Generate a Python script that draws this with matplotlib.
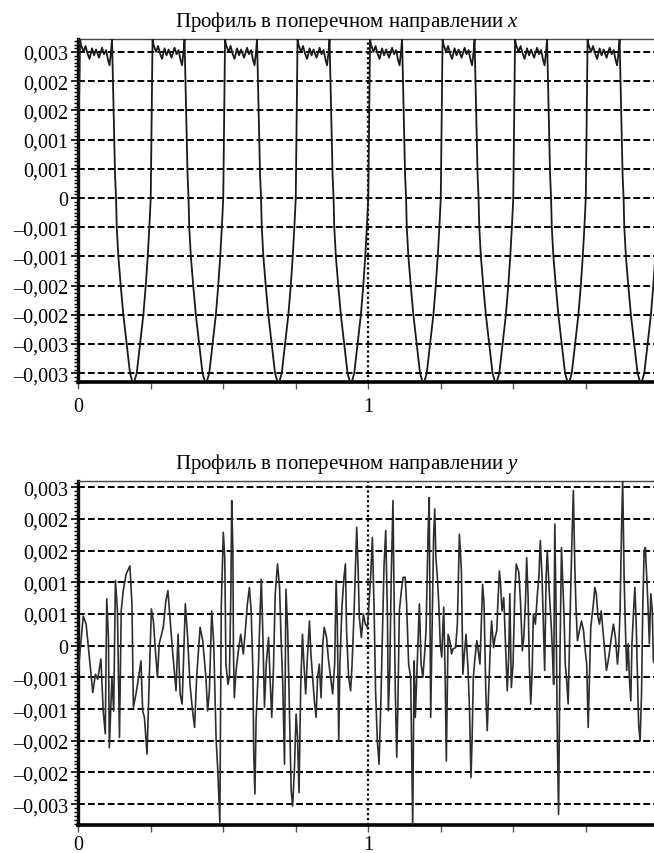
import numpy as np
import matplotlib.pyplot as plt
from matplotlib.ticker import AutoMinorLocator

plt.rcParams['font.family'] = ['Liberation Serif', 'DejaVu Serif']
plt.rcParams['mathtext.fontset'] = 'custom'
plt.rcParams['mathtext.rm'] = 'Liberation Serif'
plt.rcParams['mathtext.it'] = 'Liberation Serif:italic'

# --- profile across x: one period of the surface (offset from plateau start, height in 1e-3)
period_dx = [0.0, 0.0034, 0.0121, 0.0190, 0.0259, 0.0328, 0.0414, 0.0483, 0.0552,
             0.0655, 0.0759, 0.0828, 0.0897, 0.0966, 0.1017, 0.1069, 0.1103, 0.1138,
             0.1207, 0.1241, 0.1266, 0.1321, 0.1403, 0.1493, 0.1610, 0.1724, 0.1838,
             0.1955, 0.2069, 0.2183, 0.2266, 0.2334, 0.2390, 0.2438, 0.2483]
period_h = [2.72, 2.62, 2.50, 2.60, 2.47, 2.38, 2.56, 2.44, 2.54,
            2.40, 2.57, 2.46, 2.53, 2.36, 2.27, 2.50, 2.72, 1.95,
            0.40, 0.00, -0.50, -1.00, -1.50, -2.00, -2.50, -3.00, -3.20,
            -3.00, -2.50, -2.00, -1.50, -1.00, -0.50, 0.00, 2.00]
plateau_starts = [0.007, 0.257, 0.507, 0.757, 1.007, 1.257, 1.507, 1.757]
lead_x = [0.0, 0.005]
lead_h = [0.70, 2.00]

# --- profile across y (position, height in 1e-3)
py_x = [0.000, 0.018, 0.028, 0.039, 0.051, 0.060, 0.068, 0.079, 0.087, 0.094,
        0.099, 0.105, 0.108, 0.117, 0.123, 0.129, 0.136, 0.143, 0.149, 0.156,
        0.166, 0.179, 0.186, 0.191, 0.200, 0.209, 0.217, 0.223, 0.229, 0.238,
        0.246, 0.253, 0.260, 0.267, 0.274, 0.280, 0.294, 0.303, 0.310, 0.317,
        0.326, 0.338, 0.345, 0.352, 0.359, 0.370, 0.378, 0.386, 0.395, 0.402,
        0.409, 0.421, 0.430, 0.441, 0.447, 0.453, 0.461, 0.468, 0.476, 0.482,
        0.489, 0.494, 0.501, 0.506, 0.510, 0.517, 0.522, 0.527, 0.530, 0.534,
        0.536, 0.539, 0.545, 0.553, 0.561, 0.570, 0.577, 0.584, 0.591, 0.597,
        0.603, 0.606, 0.610, 0.614, 0.622, 0.628, 0.632, 0.637, 0.643, 0.649,
        0.657, 0.662, 0.668, 0.674, 0.680, 0.688, 0.695, 0.700, 0.706, 0.712,
        0.717, 0.723, 0.729, 0.735, 0.740, 0.746, 0.752, 0.757, 0.762, 0.768,
        0.774, 0.779, 0.785, 0.791, 0.798, 0.803, 0.809, 0.815, 0.821, 0.826,
        0.832, 0.838, 0.844, 0.849, 0.857, 0.864, 0.871, 0.878, 0.885, 0.890,
        0.894, 0.899, 0.903, 0.910, 0.917, 0.922, 0.926, 0.933, 0.940, 0.945,
        0.952, 0.957, 0.961, 0.966, 0.970, 0.977, 0.984, 0.991, 0.998, 1.003,
        1.009, 1.015, 1.021, 1.026, 1.032, 1.038, 1.044, 1.049, 1.055, 1.061,
        1.067, 1.070, 1.075, 1.080, 1.086, 1.089, 1.094, 1.099, 1.103, 1.108,
        1.115, 1.121, 1.128, 1.133, 1.140, 1.147, 1.150, 1.154, 1.159, 1.163,
        1.168, 1.172, 1.177, 1.183, 1.189, 1.195, 1.200, 1.207, 1.211, 1.216,
        1.221, 1.226, 1.230, 1.234, 1.239, 1.244, 1.249, 1.254, 1.261, 1.266,
        1.270, 1.276, 1.282, 1.288, 1.293, 1.302, 1.308, 1.315, 1.322, 1.327,
        1.333, 1.338, 1.345, 1.350, 1.355, 1.359, 1.363, 1.369, 1.375, 1.380,
        1.386, 1.391, 1.395, 1.400, 1.406, 1.411, 1.416, 1.422, 1.426, 1.433,
        1.438, 1.444, 1.448, 1.453, 1.457, 1.462, 1.468, 1.474, 1.480, 1.485,
        1.489, 1.494, 1.500, 1.506, 1.511, 1.520, 1.526, 1.532, 1.537, 1.543,
        1.547, 1.552, 1.556, 1.561, 1.566, 1.570, 1.577, 1.584, 1.589, 1.594,
        1.600, 1.605, 1.609, 1.614, 1.618, 1.626, 1.632, 1.637, 1.640, 1.644,
        1.648, 1.653, 1.657, 1.662, 1.667, 1.671, 1.676, 1.680, 1.685, 1.690,
        1.694, 1.699, 1.703, 1.708, 1.713, 1.717, 1.722, 1.729, 1.736, 1.743,
        1.749, 1.754, 1.759, 1.763, 1.768, 1.772, 1.777, 1.782, 1.787, 1.793,
        1.798, 1.804, 1.810, 1.816, 1.822, 1.828, 1.833, 1.839, 1.846, 1.853,
        1.860, 1.864, 1.869, 1.874, 1.878, 1.883, 1.887, 1.892, 1.897, 1.901,
        1.906, 1.910, 1.915, 1.920, 1.924, 1.929, 1.933, 1.938, 1.943, 1.947,
        1.952, 1.956, 1.961, 1.966, 1.970, 1.975, 1.980, 1.984, 1.989]
py_h = [-0.45, 0.47, 0.34, -0.18, -0.74, -0.45, -0.53, -0.21, -1.03, -1.39,
        0.74, 0.13, -1.61, -0.50, -1.03, 1.03, 0.55, -1.45, 0.55, 0.87,
        1.13, 1.26, 0.66, -0.97, -0.76, -0.50, -0.24, -1.03, -1.13, -1.71,
        -0.50, 0.58, 0.39, -0.08, -0.50, 0.03, 0.29, 0.71, 0.87, 0.45,
        -0.08, -0.71, 0.18, -0.76, -0.92, 0.66, 0.13, -0.61, -1.03, -1.29,
        -0.50, 0.29, 0.08, -0.50, -1.03, -0.71, 0.55, 0.03, -1.45, -1.97,
        -2.79, 0.61, 1.79, 1.39, -0.29, -0.61, -0.50, 0.82, 2.29, 1.50,
        -0.08, -0.82, -0.39, -0.08, 0.18, -0.13, 0.24, 0.66, 0.92, 0.55,
        -0.39, -1.71, -2.34, -1.18, -0.34, 0.55, 1.05, 0.24, -0.97, -0.29,
        0.13, -0.50, -1.13, -0.34, 0.82, 1.29, 0.92, 0.13, -0.61, -1.87,
        0.89, 0.24, -1.03, -2.29, -2.53, -1.97, -1.08, -1.45, -2.32, -0.61,
        0.18, -0.29, -0.76, -0.18, 0.39, -0.13, -0.50, -0.87, -1.13, -0.50,
        -0.29, -0.82, 0.03, 0.29, 0.13, -0.24, -0.50, -0.76, -0.29, 1.03,
        0.39, -1.50, -0.29, 0.61, 1.08, 1.29, 0.24, -0.50, -0.71, -0.29,
        0.55, 1.29, 1.87, 1.18, 0.45, 0.13, 0.50, 0.34, 0.29, 0.66,
        1.08, 1.71, 0.55, -0.71, -1.50, -1.87, -0.92, 0.03, 1.24, 1.82,
        0.45, -1.03, -0.39, 1.08, 2.29, 1.08, -0.71, -1.76, -0.92, 0.55,
        0.87, 1.08, 1.08, 0.66, -0.29, -0.50, -1.55, -2.82, -0.24, -1.13,
        -0.50, 0.03, 0.66, -0.29, -0.50, -0.13, 0.24, 1.76, 2.34, -1.13,
        0.29, 1.71, 2.16, 1.39, 1.08, 0.66, 0.03, -0.18, 0.61, -0.50,
        -1.82, 0.18, 0.08, -0.13, -0.05, -0.03, 0.34, 1.76, 1.18, -0.45,
        -0.08, 0.18, -0.39, -1.03, -2.08, -1.45, -0.50, -0.18, 0.08, -0.08,
        -0.29, 0.39, 0.97, 0.66, -0.71, -1.34, -0.71, 0.03, 0.39, -0.03,
        0.13, 0.24, 0.71, 1.18, 0.97, 0.55, 0.76, 0.03, -0.71, -0.18,
        0.82, -0.66, -0.29, 0.82, 1.29, 1.16, 0.66, -0.08, 0.13, 0.71,
        1.39, 0.76, -0.29, -0.92, -0.39, 0.50, 0.34, 0.82, 1.08, 1.66,
        1.08, 0.29, -0.39, 1.08, 1.50, 0.76, 0.29, -0.24, -0.61, 1.92,
        0.66, -1.55, -2.66, -0.08, 1.55, 1.08, 0.45, -0.29, -0.55, -0.92,
        -0.08, 0.92, 1.66, 2.45, 1.24, 0.61, 0.08, 0.24, 0.39, 0.24,
        -0.08, -0.29, -1.29, -0.61, 0.29, 0.45, 0.66, 0.92, 0.82, 0.45,
        0.34, 0.55, 0.24, -0.08, -0.39, -0.24, -0.08, 0.13, 0.34, 0.13,
        -0.29, -0.08, 0.55, 1.82, 2.61, 1.08, 0.34, -0.39, 0.03, -0.50,
        -0.87, 0.03, 0.50, 0.92, 0.45, -0.50, -1.24, -1.50, -0.76, 0.55,
        1.50, 1.55, 1.08, 0.55, 0.03, 0.82, 0.55, -0.24, -0.29]

titles = ['Профиль в поперечном направлении $x$',
          'Профиль в поперечном направлении $y$']
top_yticks = [-0.003, -0.0025, -0.002, -0.0015, -0.001, -0.0005,
              0.0, 0.0005, 0.001, 0.0015, 0.002, 0.0025]
top_ylabels = ['–0,003', '–0,003', '–0,002', '–0,002', '–0,001', '–0,001',
               '0', '0,001', '0,001', '0,002', '0,002', '0,003']
bot_yticks = [-0.0025, -0.002, -0.0015, -0.001, -0.0005,
              0.0, 0.0005, 0.001, 0.0015, 0.002, 0.0025]
bot_ylabels = ['–0,003', '–0,002', '–0,002', '–0,001', '–0,001',
               '0', '0,001', '0,001', '0,002', '0,002', '0,003']
xticks = [0, 0.25, 0.5, 0.75, 1.0, 1.25, 1.5, 1.75]
xlabels = ['0', '', '', '', '1', '', '', '']

# assemble the periodic x-profile
top_x = list(lead_x)
top_h = list(lead_h)
for s in plateau_starts:
    top_x += [s + d for d in period_dx]
    top_h += period_h
top_x = np.array(top_x)
top_y = np.array(top_h) * 1e-3
bot_x = np.array(py_x)
bot_y = np.array(py_h) * 1e-3

W, H = 654, 854
fig = plt.figure(figsize=(W / 100, H / 100), dpi=100)


def make_axes(top_px, bottom_px):
    left = 78 / W
    return fig.add_axes([left, 1 - bottom_px / H, 1 - left, (bottom_px - top_px) / H])


ax1 = make_axes(40, 383)
ax2 = make_axes(482, 826)


def style(ax, yticks, ylabels, ylim, title, xpad):
    ax.set_xlim(0, 1.986)
    ax.set_ylim(*ylim)
    for y in yticks:
        ax.axhline(y, color='black', lw=1.4, ls=(0, (3.5, 1.6)), zorder=1)
    ax.axvline(1.0, color='black', lw=1.6, ls=(0, (1, 1.2)), zorder=1)
    ax.set_yticks(yticks)
    ax.set_yticklabels(ylabels)
    ax.set_xticks(xticks)
    ax.set_xticklabels(xlabels)
    ax.yaxis.set_minor_locator(AutoMinorLocator(8))
    ax.tick_params(axis='y', which='major', length=5, width=1.2, pad=2, labelsize=14.5)
    ax.tick_params(axis='y', which='minor', length=3, width=1.0)
    ax.tick_params(axis='x', which='major', length=5, width=1.0, pad=xpad,
                   labelsize=14.5, color='#555555')
    ax.spines['left'].set_linewidth(2.4)
    ax.spines['bottom'].set_linewidth(2.6)
    ax.spines['top'].set_linewidth(1.0)
    ax.spines['top'].set_color('#444444')
    ax.spines['right'].set_visible(False)
    ax.set_title(title, fontsize=15, x=0.467, pad=9)


style(ax1, top_yticks, top_ylabels, (-0.00315, 0.00272), titles[0], 6)
style(ax2, bot_yticks, bot_ylabels, (-0.00283, 0.0026), titles[1], 2)

ax1.plot(top_x, top_y, color='#1a1a1a', lw=1.3, zorder=3)
ax2.plot(bot_x, bot_y, color='#2e2e2e', lw=1.2, zorder=3)

fig.savefig('out.png', dpi=100)
